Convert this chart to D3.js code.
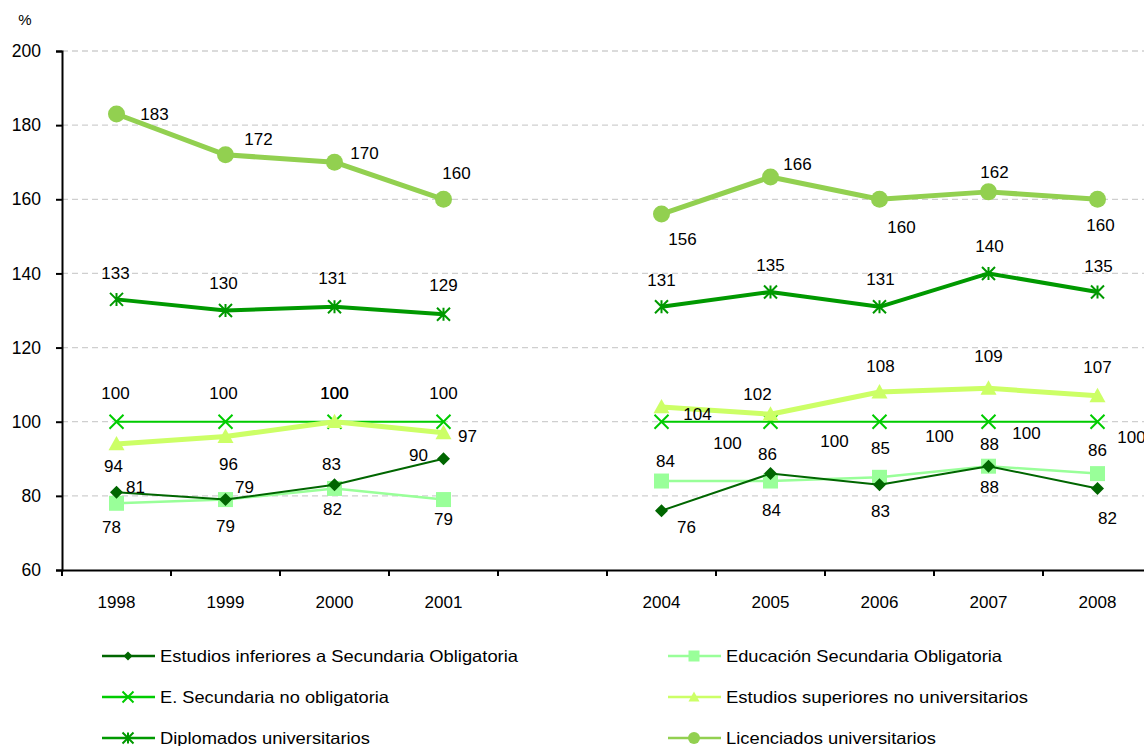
<!DOCTYPE html>
<html><head><meta charset="utf-8">
<script src="https://cdn.jsdelivr.net/npm/d3@7"></script>
<style>
html,body{margin:0;padding:0;background:#fff;overflow:hidden}
text{font-family:"Liberation Sans",Arial,sans-serif;fill:#000}
</style></head><body>
<svg id="c" width="1144" height="746"></svg>
<script>
// ---- data ----
const categories = ["1998","1999","2000","2001","","2004","2005","2006","2007","2008"];
const yTicks = [60,80,100,120,140,160,180,200];
const seriesNames = [
  "Estudios inferiores a Secundaria  Obligatoria",
  "Educación Secundaria  Obligatoria",
  "E. Secundaria no obligatoria",
  "Estudios superiores no universitarios",
  "Diplomados universitarios",
  "Licenciados universitarios"
];
const inferiores   = [81, 79, 83, 90, null, 76, 86, 83, 88, 82];
const obligatoria  = [78, 79, 82, 79, null, 84, 84, 85, 88, 86];
const noObligatoria= [100,100,100,100,null,100,100,100,100,100];
const superiores   = [94, 96, 100, 97, null, 104, 102, 108, 109, 107];
const diplomados   = [133,130,131,129,null,131,135,131,140,135];
const licenciados  = [183,172,170,160,null,156,166,160,162,160];
const seriesValues = [inferiores, obligatoria, noObligatoria, superiores, diplomados, licenciados];

// ---- styles / layout (not data) ----
const styles = [
  {color:"#006600", width:2,   marker:"diamond",  size:13},
  {color:"#99FF99", width:2.5, marker:"square",   size:15},
  {color:"#00CC00", width:2,   marker:"x",        size:14},
  {color:"#CCFF66", width:5,   marker:"triangle", size:16},
  {color:"#009900", width:4,   marker:"asterisk", size:13},
  {color:"#92D050", width:5,   marker:"circle",   size:17}
];
// label centre offsets relative to point [dx,dy]
const labelOffsets = [
  [[19,-5],[19,-13],[-3,-21],[-25,-4],null,[25,16],[-3,-20],[1,26],[1,21],[10,30]],
  [[-5,24],[0,26],[-2,21],[0,19],null,[4,-20],[1,29],[1,-29],[1,-22],[0,-24]],
  [[-1,-29],[-2,-29],[0,-29],[0,-29],null,[66,21],[64,19],[60,14],[38,11],[34,15]],
  [[-3,22],[3,27],[0,-29],[24,3],null,[36,7],[-13,-20],[1,-26],[0,-32],[0,-29]],
  [[-1,-26],[-2,-28],[-2,-29],[0,-29],null,[0,-27],[0,-27],[1,-28],[1,-27],[1,-26]],
  [[38,0],[33,-16],[30,-9],[13,-26],null,[21,25],[27,-13],[22,28],[6,-20],[3,26]]
];

const svg = d3.select("#c");
const x = d3.scaleBand().domain(d3.range(categories.length)).range([62, 1152]);
const y = d3.scaleLinear().domain([60,200]).range([570, 51]);

// grid
svg.append("g").selectAll("line").data(yTicks.filter(t=>t>60)).join("line")
  .attr("x1",62).attr("x2",1152).attr("y1",d=>y(d)).attr("y2",d=>y(d))
  .attr("stroke","#cfcfcf").attr("stroke-width",1.3).attr("stroke-dasharray","6,4");

// y axis
const yAxis = d3.axisLeft(y).tickValues(yTicks).tickSize(6).tickPadding(15);
const gy = svg.append("g").attr("transform","translate(62,0)").call(yAxis);
gy.select(".domain").attr("stroke","#000").attr("stroke-width",2);
gy.selectAll(".tick line").attr("stroke","#000").attr("stroke-width",2);
gy.selectAll(".tick text").attr("font-size",17.5).attr("font-family","Liberation Sans, Arial, sans-serif").attr("fill","#000");

// x axis
const xAxis = d3.axisBottom(x).tickFormat(i=>categories[i]).tickSize(0).tickPadding(26);
const gx = svg.append("g").attr("transform","translate(0,570)").call(xAxis);
gx.select(".domain").attr("stroke","#000").attr("stroke-width",2);
gx.selectAll(".tick text").attr("font-size",17).attr("font-family","Liberation Sans, Arial, sans-serif").attr("fill","#000");
// x ticks at band boundaries
svg.append("g").selectAll("line").data(d3.range(categories.length+1)).join("line")
  .attr("x1",i=>62+i*x.step()).attr("x2",i=>62+i*x.step())
  .attr("y1",570).attr("y2",576).attr("stroke","#000").attr("stroke-width",2);

svg.append("text").attr("x",25).attr("y",25).attr("font-size",15).attr("text-anchor","middle").text("%");

function markerPath(type, s){
  const h=s/2;
  switch(type){
    case "diamond": return `M0,${-h}L${h},0L0,${h}L${-h},0Z`;
    case "square": return `M${-h},${-h}H${h}V${h}H${-h}Z`;
    case "triangle": return `M0,${-h}L${h},${h*0.8}L${-h},${h*0.8}Z`;
    case "x": return `M${-h},${-h}L${h},${h}M${h},${-h}L${-h},${h}`;
    case "asterisk": return `M${-h},${-h}L${h},${h}M${h},${-h}L${-h},${h}M0,${-h}V${h}`;
  }
}
function drawMarker(g, st, cx, cy, s){
  if(st.marker==="circle"){
    g.append("circle").attr("cx",cx).attr("cy",cy).attr("r",s/2).attr("fill",st.color);
  } else if(st.marker==="x"||st.marker==="asterisk"){
    g.append("path").attr("transform",`translate(${cx},${cy})`).attr("d",markerPath(st.marker,s))
      .attr("stroke",st.color).attr("stroke-width",2).attr("fill","none");
  } else {
    g.append("path").attr("transform",`translate(${cx},${cy})`).attr("d",markerPath(st.marker,s))
      .attr("fill",st.color);
  }
}

const cx = i => x(i)+x.bandwidth()/2;
const line = d3.line().defined(d=>d!=null).x((d,i)=>cx(i)).y(d=>y(d));

const drawOrder = [1,0,2,3,4,5];
drawOrder.forEach(si=>{
  const st = styles[si], vals = seriesValues[si];
  const g = svg.append("g");
  g.append("path").datum(vals).attr("d",line).attr("fill","none")
    .attr("stroke",st.color).attr("stroke-width",st.width).attr("stroke-linejoin","round");
  vals.forEach((v,i)=>{ if(v!=null) drawMarker(g, st, cx(i), y(v), st.size); });
});
// labels
seriesValues.forEach((vals,si)=>{
  vals.forEach((v,i)=>{
    if(v==null) return;
    const o = labelOffsets[si][i];
    svg.append("text").attr("x",cx(i)+o[0]).attr("y",y(v)+o[1]+6)
      .attr("text-anchor","middle").attr("font-size",17).text(Math.round(v));
  });
});

// legend
const legendPos = [
  {lx:102, ly:656, tw:358}, {lx:668, ly:656, tw:276},
  {lx:102, ly:697, tw:229}, {lx:668, ly:697, tw:302},
  {lx:102, ly:738, tw:210}, {lx:668, ly:738, tw:210}
];
seriesNames.forEach((name,si)=>{
  const st = styles[si], p = legendPos[si];
  const g = svg.append("g");
  g.append("line").attr("x1",p.lx).attr("x2",p.lx+53).attr("y1",p.ly).attr("y2",p.ly)
    .attr("stroke",st.color).attr("stroke-width",2.5);
  drawMarker(g, st, p.lx+26, p.ly, st.marker==="circle"?12:(st.marker==="diamond"?9:11));
  g.append("text").attr("x",p.lx+58).attr("y",p.ly+6).attr("font-size",16.5)
    .attr("textLength",p.tw).attr("lengthAdjust","spacingAndGlyphs").text(name);
});
</script></body></html>
